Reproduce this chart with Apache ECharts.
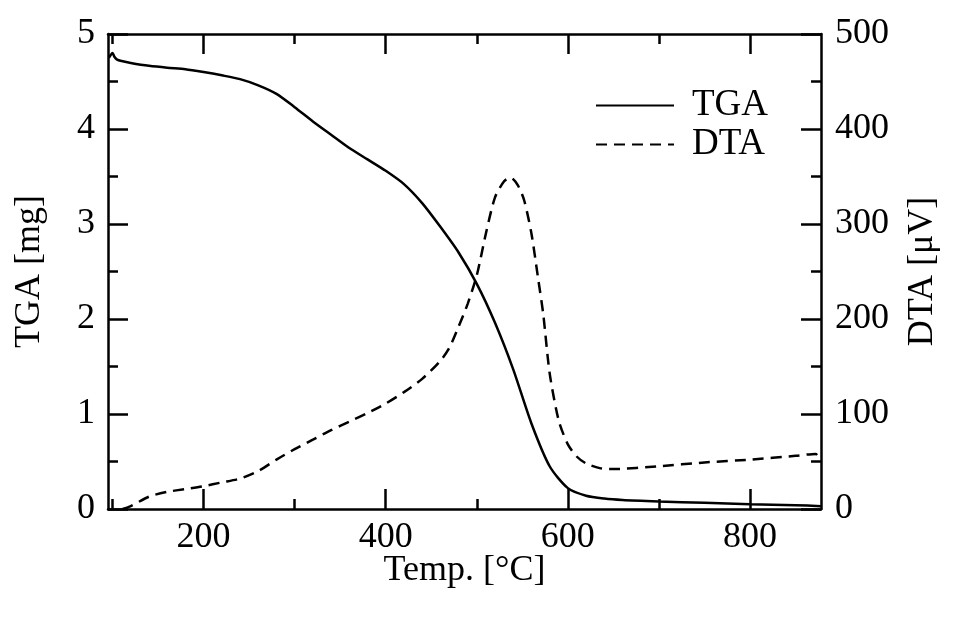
<!DOCTYPE html>
<html>
<head>
<meta charset="utf-8">
<script src="https://cdn.jsdelivr.net/npm/echarts@6/dist/echarts.min.js"></script>
<style>
  html, body { margin: 0; padding: 0; background: #fff; }
  #chart { width: 955px; height: 617px; }
</style>
</head>
<body>
<div id="chart"></div>
<script>
// TGA curve (temperature in °C, mass in mg)
const tgaTemp = [96, 98, 100, 102, 105, 110, 120, 140, 160, 180, 200, 220, 240, 260, 280, 300, 320, 340, 360, 380, 400, 420, 440, 460, 480, 500, 520, 540, 560, 580, 600, 620, 640, 660, 700, 750, 800, 850, 878]
const tgaMass = [4.75, 4.78, 4.80, 4.76, 4.73, 4.715, 4.695, 4.665, 4.645, 4.63, 4.60, 4.565, 4.525, 4.46, 4.37, 4.23, 4.08, 3.94, 3.80, 3.68, 3.56, 3.42, 3.22, 2.97, 2.70, 2.37, 1.96, 1.47, 0.90, 0.45, 0.22, 0.14, 0.11, 0.095, 0.08, 0.065, 0.05, 0.04, 0.03]

// DTA curve (temperature in °C, signal in µV)
const dtaTemp = [111, 120, 140, 160, 180, 200, 220, 240, 260, 280, 300, 320, 340, 360, 380, 400, 420, 440, 460, 470, 480, 490, 500, 510, 520, 530, 537, 545, 552, 560, 567, 573, 580, 590, 600, 610, 620, 635, 650, 700, 750, 800, 850, 872, 878]
const dtaSignal = [0, 3, 13, 18, 21, 24, 28, 32, 40, 52, 63, 73, 83, 92, 101, 111, 123, 137, 156, 170, 192, 216, 246, 290, 328, 345, 349, 341, 325, 290, 245, 205, 143, 93, 68, 55, 48, 43, 42, 45, 49, 52, 56, 58, 50]

// tick labels
const xMajorTicks = [200, 400, 600, 800]
const xMinorTicks = [100, 300, 500, 700]
const xMin = 95
const xMax = 878

const font = 'Liberation Serif'
const black = '#000'
const fs = 36

const tgaData = tgaTemp.map((t, i) => [t, tgaMass[i]])
const dtaData = dtaTemp.map((t, i) => [t, dtaSignal[i]])

const lineW = 2.5

function xAxisDef (pos, ticks, len, withLabels) {
  return {
    type: 'value',
    position: pos,
    min: xMin,
    max: xMax,
    splitLine: { show: false },
    axisLine: { show: withLabels, lineStyle: { color: black, width: lineW } },
    axisTick: { show: true, inside: true, length: len, customValues: ticks, lineStyle: { color: black, width: lineW } },
    axisLabel: {
      show: withLabels && pos === 'bottom',
      customValues: ticks,
      margin: 11,
      color: black,
      fontFamily: font,
      fontSize: fs
    }
  }
}

const xBottom = xAxisDef('bottom', xMajorTicks, 20, true)
xBottom.name = 'Temp. [°C]'
xBottom.nameLocation = 'middle'
xBottom.nameGap = 44
xBottom.nameMoveOverlap = false
xBottom.nameTextStyle = { color: black, fontFamily: font, fontSize: fs }

const option = {
  animation: false,
  backgroundColor: '#fff',
  grid: { left: 108, top: 34, width: 713, height: 475, containLabel: false },
  legend: {
    orient: 'vertical',
    left: 590,
    top: 82,
    itemWidth: 78,
    itemHeight: 14,
    itemGap: 2,
    data: ['TGA', 'DTA'],
    // hide the symbol drawn in the middle of the legend line
    itemStyle: { color: 'rgba(0,0,0,0)', borderWidth: 0, opacity: 0 },
    textStyle: { color: black, fontFamily: font, fontSize: 37, lineHeight: 37, padding: [0, 0, 0, 13] }
  },
  xAxis: [
    xBottom,
    xAxisDef('bottom', xMinorTicks, 10, false),
    xAxisDef('top', xMajorTicks, 20, true),
    xAxisDef('top', xMinorTicks, 10, false)
  ],
  yAxis: [
    {
      type: 'value',
      position: 'left',
      min: 0,
      max: 5,
      interval: 1,
      name: 'TGA [mg]',
      nameLocation: 'middle',
      nameGap: 60,
      nameMoveOverlap: false,
      nameTextStyle: { color: black, fontFamily: font, fontSize: fs },
      splitLine: { show: false },
      axisLine: { show: true, lineStyle: { color: black, width: lineW } },
      axisTick: { inside: true, length: 20, lineStyle: { color: black, width: lineW } },
      minorTick: { show: true, splitNumber: 2, length: 10, lineStyle: { color: black, width: lineW } },
      axisLabel: { margin: 13, color: black, fontFamily: font, fontSize: fs }
    },
    {
      type: 'value',
      position: 'right',
      min: 0,
      max: 500,
      interval: 100,
      name: 'DTA [μV]',
      nameLocation: 'middle',
      nameGap: 84,
      nameMoveOverlap: false,
      nameTextStyle: { color: black, fontFamily: font, fontSize: fs },
      splitLine: { show: false },
      axisLine: { show: true, lineStyle: { color: black, width: lineW } },
      axisTick: { inside: true, length: 20, lineStyle: { color: black, width: lineW } },
      minorTick: { show: true, splitNumber: 2, length: 10, lineStyle: { color: black, width: lineW } },
      axisLabel: { margin: 14, color: black, fontFamily: font, fontSize: fs }
    }
  ],
  series: [
    {
      name: 'TGA',
      type: 'line',
      xAxisIndex: 0,
      yAxisIndex: 0,
      data: tgaData,
      symbol: 'none',
      smooth: 0.25,
      lineStyle: { color: black, width: lineW, type: 'solid' },
      itemStyle: { color: black }
    },
    {
      name: 'DTA',
      type: 'line',
      xAxisIndex: 0,
      yAxisIndex: 1,
      data: dtaData,
      symbol: 'none',
      smooth: 0.25,
      lineStyle: { color: black, width: lineW, type: [11, 7] },
      itemStyle: { color: black }
    }
  ]
}

const myChart = echarts.init(document.getElementById('chart'))
myChart.setOption(option)
</script>
</body>
</html>
